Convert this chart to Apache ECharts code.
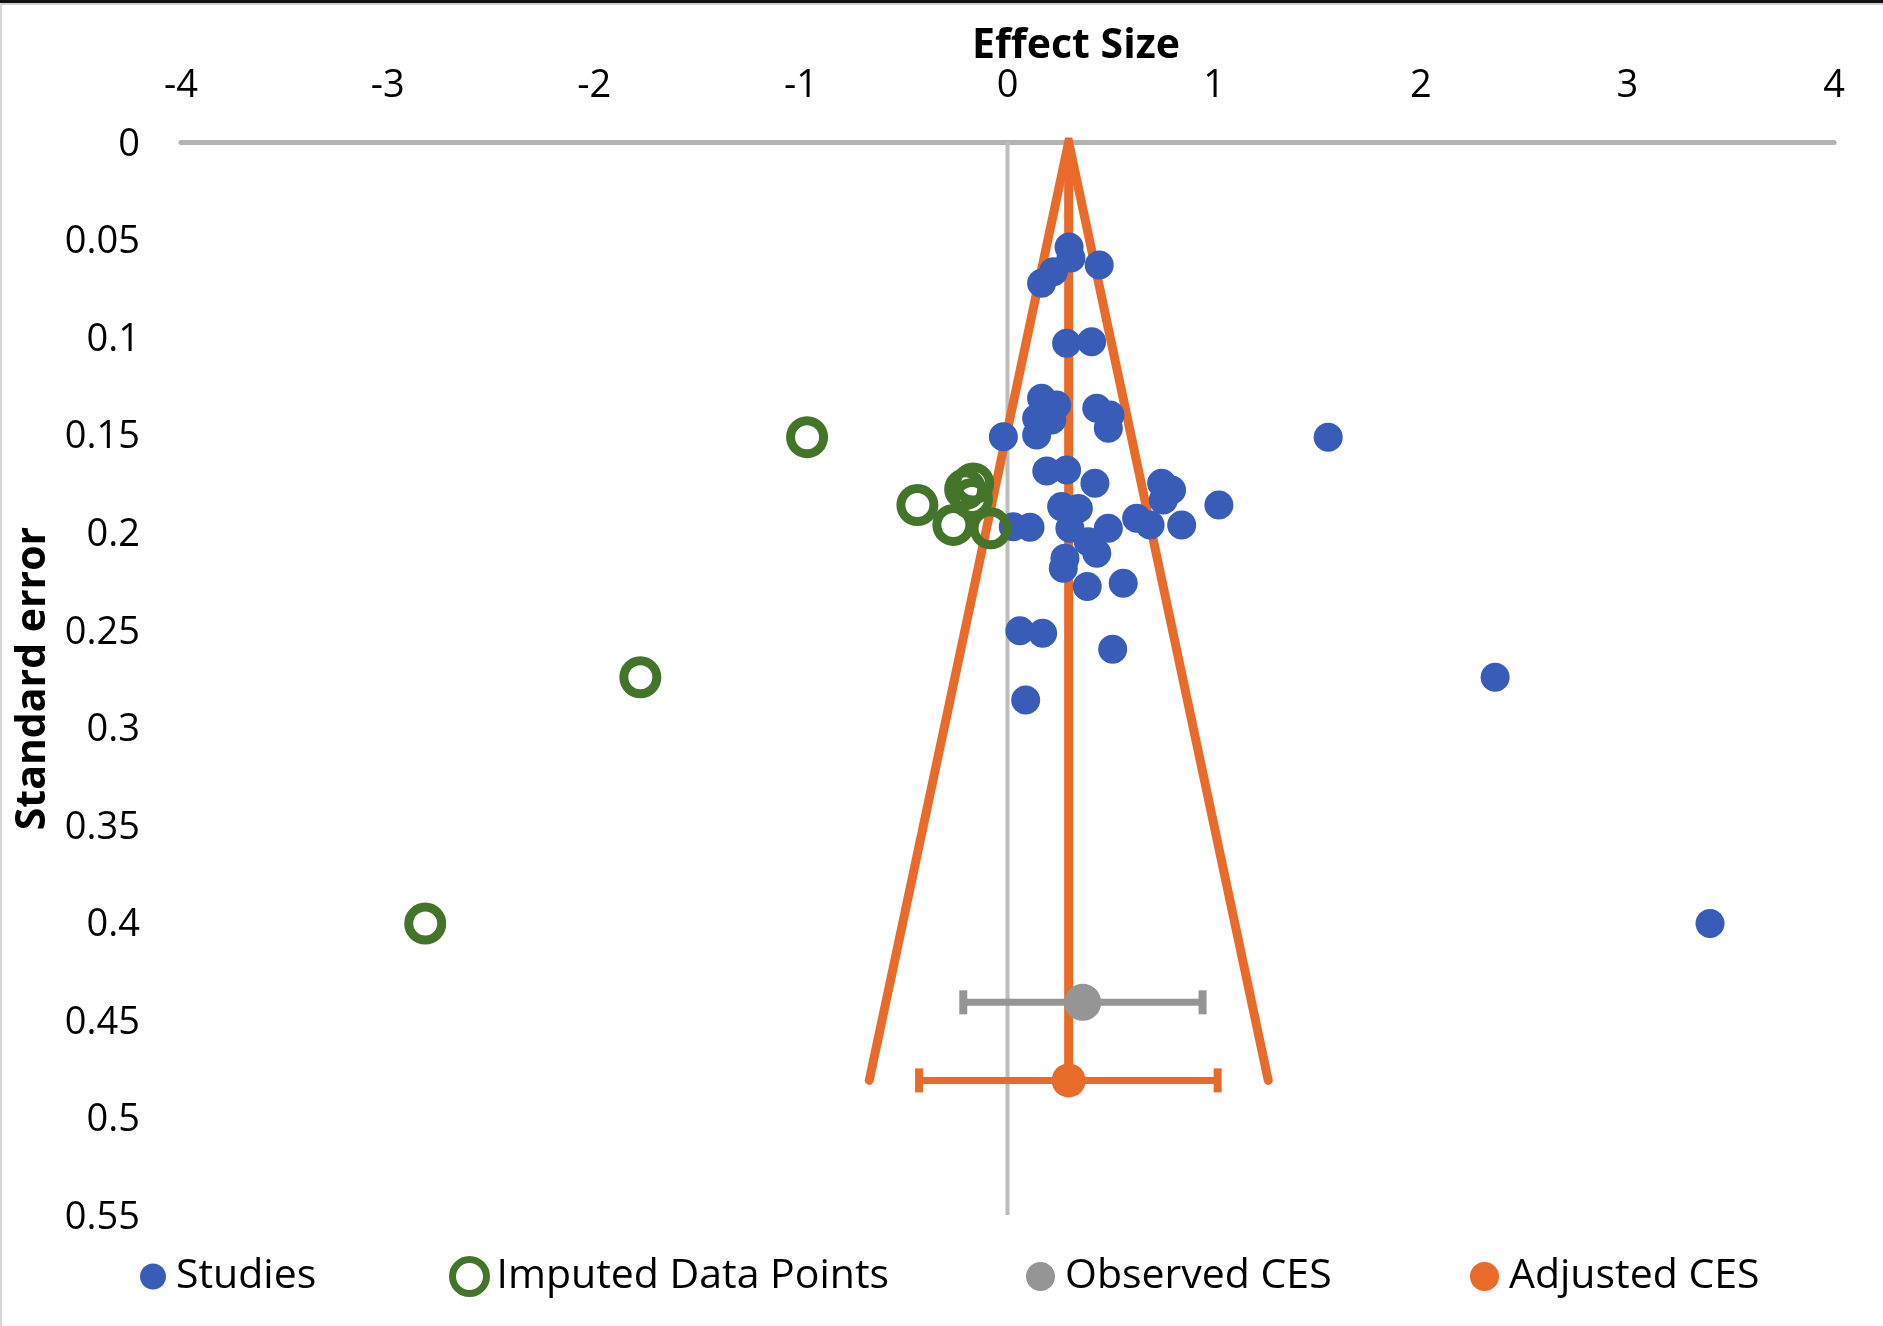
<!DOCTYPE html>
<html>
<head>
<meta charset="utf-8">
<script src="https://cdn.jsdelivr.net/npm/echarts@6/dist/echarts.min.js"></script>
<style>
html,body{margin:0;padding:0;background:#fff;}
#chart{width:1883px;height:1326px;}
</style>
</head>
<body>
<div id="chart"></div>
<script>
// ---- data ----
const xTicks = [-4, -3, -2, -1, 0, 1, 2, 3, 4];
const yTicks = [0, 0.05, 0.1, 0.15, 0.2, 0.25, 0.3, 0.35, 0.4, 0.45, 0.5, 0.55];

const studiesES = [0.298, 0.307, 0.444, 0.222, 0.165, 0.286, 0.407, 0.165, 0.238, 0.141,
  0.214, 0.141, -0.020, 0.432, 0.496, 0.488, 0.190, 0.286, 0.423, 0.746,
  0.794, 0.754, 0.843, 1.023, 0.625, 0.690, 0.028, 0.109, 0.262, 0.343,
  0.302, 0.488, 0.391, 0.432, 0.278, 0.270, 0.386, 0.560, 0.060, 0.170,
  0.509, 0.088, 1.552, 2.360, 3.400];
const studiesSE = [0.0538, 0.0595, 0.0630, 0.0665, 0.0724, 0.1032, 0.1024, 0.1314, 0.1348, 0.1416,
  0.1425, 0.1502, 0.1511, 0.1365, 0.1399, 0.1467, 0.1686, 0.1681, 0.1749, 0.1749,
  0.1784, 0.1835, 0.1963, 0.1861, 0.1929, 0.1963, 0.1972, 0.1975, 0.1869, 0.1878,
  0.1980, 0.1980, 0.2049, 0.2108, 0.2134, 0.2185, 0.2279, 0.2262, 0.2505, 0.2518,
  0.2600, 0.2860, 0.1513, 0.2744, 0.4006];

const imputedES = [-0.970, -1.777, -2.818, -0.436, -0.262, -0.082, -0.166, -0.205, -0.172];
const imputedSE = [0.1513, 0.2744, 0.4006, 0.1861, 0.1963, 0.1980, 0.1750, 0.1780, 0.1830];

const cesNames = ['Observed CES', 'Adjusted CES'];
const cesES = [0.364, 0.296];
const cesSE = [0.441, 0.481];
const cesLow = [-0.214, -0.428];
const cesHigh = [0.944, 1.017];

const funnelES = [-0.669, 0.296, 1.262];
const funnelSE = [0.481, 0, 0.481];

const seriesNames = ['Studies', 'Imputed Data Points', 'Observed CES', 'Adjusted CES'];

// ---- styles ----
const FONT = '"Open Sans", "Noto Sans", sans-serif';
const BLUE = '#385cb8';
const GREEN = '#44742a';
const GREY = '#959595';
const ORANGE = '#e86b2a';

const zip = (a, b) => a.map((v, i) => [v, b[i]]);

function errorBar(color) {
  return function (params, api) {
    const y = api.value(2);
    const lo = api.coord([api.value(0), y]);
    const hi = api.coord([api.value(1), y]);
    const cap = 12;
    return {
      type: 'group',
      children: [
        { type: 'line', shape: { x1: lo[0], y1: lo[1], x2: hi[0], y2: hi[1] }, style: { stroke: color, lineWidth: 7 } },
        { type: 'line', shape: { x1: lo[0], y1: lo[1] - cap, x2: lo[0], y2: lo[1] + cap }, style: { stroke: color, lineWidth: 8 } },
        { type: 'line', shape: { x1: hi[0], y1: hi[1] - cap, x2: hi[0], y2: hi[1] + cap }, style: { stroke: color, lineWidth: 8 } }
      ]
    };
  };
}

const chart = echarts.init(document.getElementById('chart'), null, { renderer: 'canvas' });

const legendText = { fontFamily: FONT, fontSize: 41, color: '#000', padding: [0, 0, 0, 5] };

const option = {
  animation: false,
  backgroundColor: '#fff',
  textStyle: { fontFamily: FONT },
  grid: { left: 181, right: 49, top: 142, bottom: 111, containLabel: false },
  xAxis: {
    type: 'value',
    position: 'top',
    min: xTicks[0],
    max: xTicks[xTicks.length - 1],
    interval: 1,
    axisLine: { show: true, onZero: false, lineStyle: { color: '#b3b3b3', width: 5 } },
    axisTick: { show: false },
    splitLine: { show: false },
    axisLabel: { fontFamily: FONT, fontSize: 38, color: '#000', margin: 37 }
  },
  yAxis: {
    type: 'value',
    inverse: true,
    min: yTicks[0],
    max: yTicks[yTicks.length - 1],
    interval: 0.05,
    axisLine: { show: false },
    axisTick: { show: false },
    splitLine: { show: false },
    axisLabel: {
      fontFamily: FONT, fontSize: 38, color: '#000', margin: 41,
      verticalAlign: 'top', lineHeight: 6,
      formatter: v => String(parseFloat(v.toFixed(2)))
    },
    name: 'Standard error',
    nameLocation: 'middle',
    nameRotate: 90,
    nameGap: 118,
    nameTextStyle: { fontFamily: FONT, fontSize: 41, fontWeight: 'bold', color: '#000' }
  },
  legend: [
    { left: 140, top: 1256, padding: 0, itemWidth: 26, itemHeight: 26, textStyle: legendText,
      data: [{ name: seriesNames[0], icon: 'circle' }] },
    { left: 449, top: 1256, padding: 0, itemWidth: 34, itemHeight: 34, textStyle: legendText,
      data: [{ name: seriesNames[1], icon: 'circle', itemStyle: { color: '#fff', borderColor: GREEN, borderWidth: 7 } }] },
    { left: 1026, top: 1256, padding: 0, itemWidth: 29, itemHeight: 29, textStyle: legendText,
      data: [{ name: seriesNames[2], icon: 'circle' }] },
    { left: 1470, top: 1256, padding: 0, itemWidth: 29, itemHeight: 29, textStyle: legendText,
      data: [{ name: seriesNames[3], icon: 'circle' }] }
  ],
  graphic: [
    { type: 'rect', left: 0, top: 0, shape: { width: 1883, height: 3 }, style: { fill: '#111' }, silent: true },
    { type: 'rect', left: 0, top: 3, shape: { width: 1883, height: 2 }, style: { fill: '#d0d0d0' }, silent: true },
    { type: 'rect', left: 0, top: 3, shape: { width: 2, height: 1323 }, style: { fill: '#d6d6d6' }, silent: true },
    {
      type: 'text', x: 1076, y: 46,
      style: { text: 'Effect Size', fontFamily: FONT, fontSize: 41, fontWeight: 'bold', fill: '#000',
        textAlign: 'center', textVerticalAlign: 'middle' }
    }
  ],
  series: [
    {
      name: 'zero', type: 'line', silent: true, showSymbol: false, symbol: 'none',
      data: [[0, yTicks[0]], [0, yTicks[yTicks.length - 1]]],
      lineStyle: { color: '#bdbdbd', width: 4 }, z: 1
    },
    {
      name: 'funnel', type: 'line', silent: true, showSymbol: false, symbol: 'none',
      data: zip(funnelES, funnelSE),
      lineStyle: { color: ORANGE, width: 9, cap: 'round', join: 'miter' }, z: 2
    },
    {
      name: 'centre', type: 'line', silent: true, showSymbol: false, symbol: 'none',
      data: [[cesES[1], 0], [cesES[1], cesSE[1]]],
      lineStyle: { color: ORANGE, width: 9 }, z: 2
    },
    {
      name: seriesNames[0], type: 'scatter', symbol: 'circle', symbolSize: 29,
      data: zip(studiesES, studiesSE),
      itemStyle: { color: BLUE, opacity: 1 }, z: 3
    },
    {
      name: seriesNames[1], type: 'scatter', symbol: 'circle', symbolSize: 33,
      data: zip(imputedES, imputedSE),
      itemStyle: { color: 'rgba(255,255,255,0)', borderColor: GREEN, borderWidth: 9, opacity: 1 }, z: 4
    },
    {
      name: 'obsBar', type: 'custom', silent: true,
      renderItem: errorBar(GREY),
      data: [[cesLow[0], cesHigh[0], cesSE[0]]], z: 5
    },
    {
      name: 'adjBar', type: 'custom', silent: true,
      renderItem: errorBar(ORANGE),
      data: [[cesLow[1], cesHigh[1], cesSE[1]]], z: 5
    },
    {
      name: seriesNames[2], type: 'scatter', symbol: 'circle', symbolSize: 37,
      data: [[cesES[0], cesSE[0]]],
      itemStyle: { color: GREY, opacity: 1 }, z: 6
    },
    {
      name: seriesNames[3], type: 'scatter', symbol: 'circle', symbolSize: 34,
      data: [[cesES[1], cesSE[1]]],
      itemStyle: { color: ORANGE, opacity: 1 }, z: 6
    }
  ]
};

chart.setOption(option);
</script>
</body>
</html>
